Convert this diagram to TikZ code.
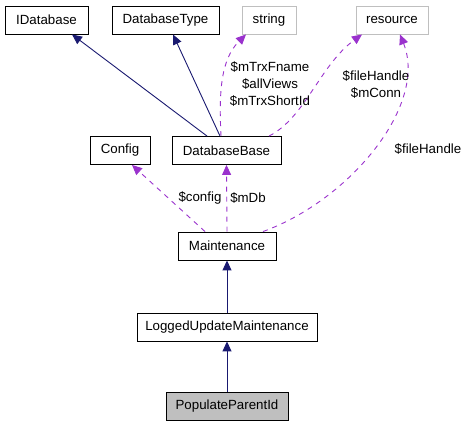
\documentclass[tikz,border=0pt]{standalone}
\usepackage{fontspec}
\setmainfont{Liberation Sans}
\usepackage{tikz}
\usetikzlibrary{arrows.meta}
\definecolor{inhblue}{HTML}{191970}
\definecolor{usepurple}{HTML}{9A32CD}
\definecolor{extgray}{HTML}{BFBFBF}

\begin{document}
\begin{tikzpicture}[x=1pt,y=-1pt,
    every node/.style={font=\fontsize{13.3}{17}\selectfont},
    cls/.style={draw,line width=0.9pt,minimum height=28pt,inner sep=0pt},
    ext/.style={cls,draw=extgray},
    inh/.style={inhblue,line width=0.9pt,-{Triangle[length=10pt,width=9pt]}},
    use/.style={usepurple,line width=0.9pt,dash pattern=on 5pt off 5pt,-{Triangle[length=10pt,width=9pt]}},
    lbl/.style={inner sep=0pt,align=center}]
  \useasboundingbox (0,0) rectangle (467,427);
  % top row
  \node[cls,minimum width=83pt] (idb) at (46.5,20) {IDatabase};
  \node[cls,minimum width=107pt] (dbtype) at (165.5,20) {DatabaseType};
  \node[ext,minimum width=54pt] (str) at (269,20) {string};
  \node[ext,minimum width=72pt] (res) at (392,20) {resource};
  % middle
  \node[cls,minimum width=60pt] (cfg) at (120,150.5) {Config};
  \node[cls,minimum width=109pt] (dbb) at (226.5,150.5) {DatabaseBase};
  \node[cls,minimum width=98pt] (mnt) at (227,246) {Maintenance};
  \node[cls,minimum width=180pt] (lum) at (227,327) {LoggedUpdateMaintenance};
  \node[cls,minimum width=122pt,fill=extgray] (ppi) at (227,406.5) {PopulateParentId};
  % inheritance
  \draw[inh] ([xshift=-19.5pt]dbb.north) -- ([xshift=25.5pt]idb.south);
  \draw[inh] ([xshift=-6.5pt]dbb.north) -- ([xshift=7.5pt]dbtype.south);
  \draw[inh] (lum.north) -- (mnt.south);
  \draw[inh] (ppi.north) -- (lum.south);
  % usage
  \draw[use] ([xshift=-5.5pt]dbb.north) .. controls (219,95) and (220,60) .. ([xshift=-23pt]str.south);
  \draw[use] ([xshift=42.5pt]dbb.north) .. controls (305,118) and (320,65) .. ([xshift=-30pt]res.south);
  \draw[use] ([xshift=36pt]mnt.north) .. controls (350,200) and (428,105) .. ([xshift=8pt]res.south);
  \draw[use] ([xshift=-22pt]mnt.north) -- ([xshift=12pt]cfg.south);
  \draw[use] (mnt.north) -- (dbb.south);
  % labels
  \node[lbl] (lstr) at (270,84) {\$mTrxFname\\\$allViews\\\$mTrxShortId};
  \node[lbl] (lres) at (376,84.5) {\$fileHandle\\\$mConn};
  \node[lbl] (lfh) at (428,149) {\$fileHandle};
  \node[lbl] (lcfg) at (200,198) {\$config};
  \node[lbl] (ldb) at (248,198) {\$mDb};
\end{tikzpicture}
\end{document}
